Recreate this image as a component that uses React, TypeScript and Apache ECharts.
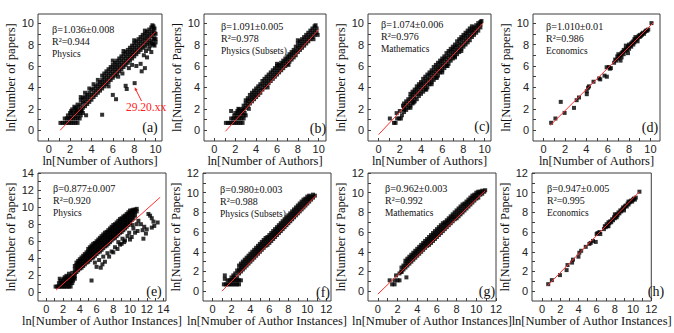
import React, { useEffect, useRef } from "react";
import * as echarts from "echarts";

// ---------- data (x = ln authors / author instances, y = ln papers) ----------
// Flat point lists: [x, y, x, y, ...]. Band lists: each row is [x, y1, y2, ...] (points sharing one x).

// (a) Physics, authors
const ROWS_A = [1.1,0.69, 1.3,0.69, 1.5,0.69, 1.7,0.69, 1.9,0.69, 2.1,0.69, 2.3,0.69, 2.5,0.69, 2.7,0.69,
  1.5,1.1, 1.7,1.1, 1.9,1.1, 2.1,1.1, 2.3,1.1, 2.5,1.1, 2.7,1.1, 2.9,1.1,
  1.8,1.39, 2.1,1.39, 2.4,1.39, 2.7,1.39, 3.0,1.39, 2.0,1.61, 2.3,1.61, 2.6,1.61, 2.9,1.61, 3.2,1.61,
  2.1,1.79, 2.5,1.79, 2.8,1.79, 3.1,1.79, 2.2,1.95, 2.6,1.95, 3.0,1.95, 2.5,2.08, 2.8,2.2, 2.7,2.4, 2.4,2.2];
const BAND_A = [
  [3.0,1.9,2.4,2.8,3.1],[3.2,2.1,2.6,3.0],[3.4,2.25,2.7,3.1,3.5],[3.6,2.45,2.9,3.3],[3.8,2.65,3.1,3.5,3.9],
  [4.0,2.85,3.3,3.8],[4.2,3.1,3.5,3.9,4.3],[4.4,3.3,3.7,4.1],[4.6,3.5,3.9,4.3,4.7],[4.8,3.7,4.1,4.5],
  [5.0,3.9,4.3,4.7,5.1],[5.2,4.1,4.5,4.9,5.3],[5.4,4.3,4.7,5.1,5.5],[5.6,4.5,4.9,5.3,5.7],[5.8,4.7,5.1,5.5,5.9],
  [6.0,4.9,5.3,5.7,6.1,6.5],[6.2,5.1,5.5,5.9,6.3],[6.4,5.3,5.7,6.1,6.5],[6.6,5.5,5.9,6.3,6.7],[6.8,5.7,6.1,6.5,6.9],
  [7.0,5.9,6.3,6.7,7.1,7.4],[7.2,6.1,6.5,6.9,7.3],[7.4,6.3,6.7,7.1,7.5],[7.6,6.5,6.9,7.3,7.7],[7.8,6.7,7.1,7.5,7.9],
  [8.0,6.9,7.3,7.7,8.1,8.4],[8.2,7.1,7.5,7.9,8.3],[8.4,7.3,7.7,8.1,8.5],[8.6,7.5,7.9,8.3,8.7],[8.8,7.7,8.1,8.5,8.9],
  [9.0,7.8,8.2,8.6,9.0,9.3],[9.2,8.0,8.4,8.8,9.2],[9.4,8.2,8.6,9.0,9.4],[9.6,8.3,8.8,9.2,9.6],[9.8,8.5,9.0,9.4,9.7],
  [9.9,9.1,9.5],[9.7,9.8],
];
const OUT_A = [8.04,4.4, 7.2,4.15, 7.3,3.85, 6.0,3.3, 6.3,2.9, 5.0,1.45, 3.5,1.4, 9.0,5.8, 8.6,6.2, 8.2,6.0, 9.2,6.8,
  9.6,7.3, 9.9,7.9, 10.0,8.2, 9.8,8.0, 9.4,7.6, 7.8,6.1, 7.5,5.8, 6.9,5.3, 8.7,5.5, 10.0,9.0, 9.9,8.6,
  10.0,8.5, 9.7,8.1, 9.5,7.9, 9.1,7.4, 8.9,7.0, 6.5,5.0, 5.6,4.1];
const FIT_A = [1.07, 0.0, 10.0, 9.2];

// (b) Physics (Subsets), authors
const ROWS_B = [1.1,0.69, 1.3,0.69, 1.5,0.69, 1.7,0.69, 1.9,0.69, 2.1,0.69, 2.3,0.69, 2.5,0.69, 2.7,0.69,
  1.6,1.1, 1.8,1.1, 2.0,1.1, 2.2,1.1, 2.4,1.1, 2.6,1.1, 2.8,1.1,
  1.9,1.39, 2.2,1.39, 2.5,1.39, 2.8,1.39, 3.0,1.39, 1.6,1.8, 2.0,1.61, 2.3,1.61, 2.6,1.61, 2.9,1.61,
  2.2,1.79, 2.6,1.79, 2.4,1.95, 2.7,2.0, 2.3,2.0];
const BAND_B = [
  [2.8,1.9,2.3],[3.0,2.1,2.5,2.8],[3.2,2.3,2.7,3.0],[3.4,2.5,2.9,3.3],[3.6,2.7,3.1,3.5],[3.8,2.9,3.3,3.7],
  [4.0,3.1,3.5,3.9],[4.2,3.3,3.7,4.1],[4.4,3.5,3.9,4.3],[4.6,3.8,4.2,4.6],[4.8,4.0,4.4,4.8],[5.0,4.2,4.6,5.0],
  [5.2,4.4,4.8,5.2],[5.4,4.6,5.0,5.4],[5.6,4.8,5.2,5.6],[5.8,5.0,5.4,5.8],[6.0,5.2,5.6,6.0,6.2],[6.2,5.4,5.8,6.1],
  [6.4,5.6,6.0,6.3],[6.6,5.8,6.2,6.5],[6.8,6.0,6.4,6.7],[7.0,6.2,6.6,6.9],[7.2,6.4,6.8,7.1],[7.4,6.6,7.0,7.3],
  [7.6,6.8,7.2,7.5],[7.8,7.0,7.4,7.8],[8.0,7.3,7.7,8.1,8.4],[8.2,7.5,7.9,8.3],[8.4,7.7,8.1,8.5],[8.6,7.9,8.3,8.7],
  [8.8,8.1,8.5,8.9],[9.0,8.3,8.7,9.1],[9.2,8.5,8.9,9.3],[9.4,8.7,9.1,9.5],[9.6,8.9,9.3,9.7],[9.8,9.1,9.5],[9.7,9.8],
];
const OUT_B = [9.9,8.9, 9.5,8.5, 3.3,2.0, 5.1,4.0, 7.1,6.1];
const FIT_B = [1.05, -0.1, 10.0, 9.4];

// (c) Mathematics, authors
const ROWS_C = [1.06,1.1, 1.45,0.69, 1.6,0.69, 1.75,1.1, 1.95,1.1, 2.1,1.1, 1.7,1.6, 2.0,1.8, 2.2,1.4, 2.4,1.95, 2.3,2.3];
const BAND_C = [
  [2.4,1.7,2.1,2.5],[2.6,1.9,2.3,2.7],[2.8,2.1,2.5,2.9],[3.0,2.3,2.7,3.1,3.4],[3.2,2.5,2.9,3.3,3.6],
  [3.4,2.7,3.1,3.5,3.8],[3.6,2.9,3.4,3.8,4.1],[3.8,3.2,3.6,4.0,4.3],[4.0,3.4,3.8,4.2,4.5],[4.2,3.6,4.0,4.4,4.8],
  [4.4,3.8,4.2,4.6,5.0],[4.6,4.0,4.4,4.8,5.2],[4.8,4.3,4.7,5.1,5.4],[5.0,4.5,4.9,5.3,5.6],[5.2,4.7,5.1,5.5,5.9],
  [5.4,4.9,5.3,5.7,6.1],[5.6,5.1,5.5,5.9,6.3],[5.8,5.4,5.8,6.2,6.5],[6.0,5.6,6.0,6.4,6.7],[6.2,5.8,6.2,6.6,6.9],
  [6.4,6.0,6.4,6.8,7.2],[6.6,6.2,6.6,7.0,7.4],[6.8,6.5,6.9,7.3,7.6],[7.0,6.7,7.1,7.5,7.8],[7.2,6.9,7.3,7.7,8.0],
  [7.4,7.1,7.5,7.9,8.3],[7.6,7.3,7.7,8.1,8.5],[7.8,7.6,8.0,8.4,8.7],[8.0,7.8,8.2,8.6,8.9],[8.2,8.0,8.4,8.8,9.1],
  [8.4,8.2,8.6,9.0,9.3],[8.6,8.4,8.8,9.2,9.5],[8.8,8.7,9.1,9.4,9.7],[9.0,8.9,9.3,9.6],[9.2,9.1,9.5,9.8],
  [9.4,9.3,9.7,10.0],[9.6,9.6,9.9,10.1],[9.7,10.2],
];
const OUT_C = [3.0,2.1, 3.3,2.6, 4.5,3.8, 5.5,4.9, 6.0,5.4, 6.5,6.0, 7.2,6.8, 5.0,4.3, 7.8,7.4];
const FIT_C = [0.0, -0.4, 9.85, 10.0];

// (d) Economics, authors
const PTS_D = [0.7,0.7, 1.1,1.1, 1.6,2.65, 1.96,1.62, 2.84,2.09, 3.09,2.81, 3.31,3.06, 4.04,3.37, 4.04,3.65, 4.16,3.97,
  4.25,4.1, 4.67,4.53, 5.2,4.84, 5.3,4.75, 5.7,5.1, 5.92,5.0, 5.9,5.88, 6.1,5.9, 6.2,5.75, 6.3,5.8,
  6.6,6.3, 6.7,6.6, 6.8,6.5, 6.9,6.9, 7.0,6.7, 7.0,7.1, 7.1,6.9, 7.2,7.0, 7.3,7.2, 7.3,6.8, 7.4,7.3, 7.5,7.1,
  7.5,7.5, 7.6,7.4, 7.7,7.6, 7.7,7.9, 7.8,7.5, 7.9,7.8, 8.0,7.6, 8.0,8.0, 8.1,7.9, 8.2,8.1, 8.2,7.8, 8.3,8.2,
  8.4,8.3, 8.4,8.0, 8.5,8.5, 8.5,8.2, 8.6,8.4, 8.6,8.7, 8.7,8.5, 8.8,8.6, 8.8,8.3, 8.9,8.8, 9.0,8.7, 9.0,8.9,
  9.1,8.8, 9.2,9.0, 9.2,8.9, 9.3,9.1, 9.4,9.0, 9.5,9.2, 9.6,9.3, 9.7,9.3, 9.8,9.4, 7.2,6.5, 7.9,7.2, 10.1,10.0];
const FIT_D = [0.63, 0.47, 10.3, 10.06];

// (e) Physics, author instances
const ROWS_E = [1.1,0.69, 1.3,0.69, 1.5,0.69, 1.7,0.69, 1.9,0.69, 2.1,0.69, 2.3,0.69, 2.5,0.69, 2.7,0.69, 2.9,0.69,
  1.5,1.1, 1.7,1.1, 1.9,1.1, 2.1,1.1, 2.3,1.1, 2.5,1.1, 2.7,1.1, 2.9,1.1, 3.1,1.1,
  1.7,1.39, 2.0,1.39, 2.3,1.39, 2.6,1.39, 2.9,1.39, 3.2,1.39, 1.6,1.61, 2.1,1.61, 2.5,1.61, 2.8,1.61, 3.1,1.61, 3.4,1.61,
  2.2,1.79, 2.6,1.79, 3.0,1.79, 3.3,1.79, 2.4,1.95, 2.9,1.95, 3.4,1.95, 2.7,2.2, 3.1,2.3];
const BAND_E = [
  [3.4,2.3,2.7,3.1],[3.6,2.4,2.8,3.2,3.5],[3.8,2.6,3.0,3.4,3.7],[4.0,2.8,3.2,3.6,3.9],[4.2,2.9,3.3,3.7,4.1],
  [4.4,3.1,3.5,3.9,4.3],[4.6,3.3,3.7,4.1,4.5],[4.8,3.5,3.9,4.3,4.7],[5.0,3.6,4.0,4.4,4.8,5.1],[5.2,3.8,4.2,4.6,5.0,5.3],
  [5.4,4.0,4.4,4.8,5.2,5.5],[5.6,4.1,4.5,4.9,5.3,5.7],[5.8,4.3,4.7,5.1,5.5,5.8],[6.0,4.5,4.9,5.3,5.7,6.0],
  [6.2,4.7,5.1,5.5,5.9,6.2],[6.4,4.8,5.2,5.6,6.0,6.4],[6.6,5.0,5.4,5.8,6.2,6.6],[6.8,5.2,5.6,6.0,6.4,6.8],
  [7.0,5.4,5.8,6.2,6.6,7.0],[7.2,5.5,5.9,6.3,6.7,7.1],[7.4,5.7,6.1,6.5,6.9,7.3],[7.6,5.9,6.3,6.7,7.1,7.5],
  [7.8,6.1,6.5,6.9,7.3,7.7],[8.0,6.3,6.7,7.1,7.5,7.9],[8.2,6.4,6.8,7.2,7.6,8.0],[8.4,6.6,7.0,7.4,7.8,8.2],
  [8.6,6.8,7.2,7.6,8.0,8.4],[8.8,7.0,7.4,7.8,8.2,8.6],[9.0,7.1,7.5,7.9,8.3,8.7],[9.2,7.3,7.7,8.1,8.5,8.9],
  [9.4,7.5,7.9,8.3,8.7,9.0],[9.6,7.7,8.1,8.5,8.9,9.2],[9.8,7.9,8.3,8.7,9.1,9.4],[10.0,8.1,8.5,8.9,9.3,9.6],
  [10.2,8.5,8.9,9.3,9.6],[10.4,8.7,9.1,9.5,9.7],[10.6,9.0,9.4,9.7],[10.8,9.5,9.8],
];
const OUT_E = [5.4,1.4, 6.0,3.0, 6.5,2.9, 6.7,3.3, 7.0,3.6, 7.5,4.2, 7.8,4.8, 8.0,4.7, 8.5,5.1, 9.0,5.7, 9.3,5.9, 9.4,6.1,
  8.8,5.6, 8.2,5.3, 9.7,6.6, 10.2,6.5, 10.6,7.0, 10.9,7.2, 11.0,8.4, 11.3,8.0, 11.5,7.3, 11.6,6.3, 11.9,6.9,
  12.0,7.4, 12.2,9.2, 12.4,9.0, 12.6,8.7, 12.8,8.3, 12.6,7.6, 12.9,7.8, 13.3,8.2, 11.7,7.7, 10.0,6.2, 9.9,7.0,
  10.4,7.5, 10.8,8.0, 7.3,4.6, 6.8,4.2, 6.3,3.8, 5.8,3.5, 9.1,6.3, 8.6,5.9, 10.3,7.9];
const FIT_E = [1.16, 0.28, 13.6, 11.15];

// (f) Physics (Subsets), author instances
const ROWS_F = [1.2,0.69, 1.4,0.69, 1.6,0.69, 1.8,0.69, 2.0,0.69, 2.2,0.69, 2.4,0.69, 2.6,0.69, 2.8,0.69,
  1.6,1.1, 1.8,1.1, 2.0,1.1, 2.2,1.1, 2.4,1.1, 2.6,1.1, 2.8,1.1, 3.0,1.1,
  1.3,1.6, 1.3,1.25, 2.0,1.39, 2.3,1.39, 2.6,1.39, 2.2,1.6, 2.4,1.8, 2.6,2.1];
const BAND_F = [
  [2.8,1.8,2.2,2.6],[3.0,2.0,2.4,2.8],[3.2,2.2,2.6,3.0],[3.4,2.4,2.8,3.2],[3.6,2.6,3.0,3.4],[3.8,2.8,3.2,3.6],
  [4.0,3.0,3.4,3.8],[4.2,3.2,3.6,4.0],[4.4,3.4,3.8,4.2],[4.6,3.6,4.0,4.4],[4.8,3.8,4.2,4.6],[5.0,4.0,4.4,4.8],
  [5.2,4.2,4.6,5.0],[5.4,4.4,4.8,5.2],[5.6,4.6,5.0,5.4],[5.8,4.7,5.1,5.5],[6.0,4.9,5.3,5.7],[6.2,5.1,5.5,5.9],
  [6.4,5.3,5.7,6.1],[6.6,5.5,5.9,6.3],[6.8,5.7,6.1,6.5],[7.0,5.9,6.3,6.7],[7.2,6.1,6.5,6.9],[7.4,6.3,6.7,7.1],
  [7.6,6.5,6.9,7.3],[7.8,6.7,7.1,7.5],[8.0,6.9,7.3,7.7],[8.2,7.1,7.5,7.9],[8.4,7.3,7.7,8.1],[8.6,7.5,7.9,8.3],
  [8.8,7.7,8.1,8.5],[9.0,7.9,8.3,8.7],[9.2,8.1,8.5,8.9],[9.4,8.3,8.7,9.1],[9.6,8.5,8.9,9.3],[9.8,8.7,9.1,9.4],
  [10.0,8.9,9.3,9.6],[10.2,9.1,9.4,9.7],[10.4,9.3,9.6],[10.6,9.5,9.8],[10.8,9.7],
];
const FIT_F = [1.0, 0.0, 10.9, 9.7];

// (g) Mathematics, author instances
const ROWS_G = [1.2,1.1, 1.45,0.69, 1.7,0.69, 1.85,1.6, 1.7,1.1, 2.0,1.1, 2.2,1.1, 2.9,1.4, 2.4,1.95, 2.2,1.8];
const BAND_G = [
  [2.4,2.0,2.4],[2.6,2.2,2.6],[2.8,2.4,2.8,3.1],[3.0,2.6,3.0,3.3],[3.2,2.8,3.2,3.5],[3.4,3.0,3.4,3.7],
  [3.6,3.2,3.6,3.9],[3.8,3.4,3.8,4.1],[4.0,3.6,4.0,4.3],[4.2,3.8,4.2,4.5],[4.4,4.0,4.4,4.7],[4.6,4.2,4.6,4.9],
  [4.8,4.4,4.8,5.1],[5.0,4.6,5.0,5.3],[5.2,4.7,5.1,5.5],[5.4,4.9,5.3,5.7],[5.6,5.1,5.5,5.9],[5.8,5.3,5.7,6.1],
  [6.0,5.5,5.9,6.3],[6.2,5.7,6.1,6.5],[6.4,5.9,6.3,6.7],[6.6,6.1,6.5,6.9],[6.8,6.3,6.7,7.0],[7.0,6.5,6.9,7.2],
  [7.2,6.7,7.1,7.4],[7.4,6.9,7.3,7.6],[7.6,7.1,7.5,7.8],[7.8,7.3,7.6,8.0],[8.0,7.4,7.8,8.2],[8.2,7.6,8.0,8.4],
  [8.4,7.8,8.2,8.6],[8.6,8.0,8.4,8.8],[8.8,8.2,8.6,8.9],[9.0,8.4,8.8,9.1],[9.2,8.6,9.0,9.3],[9.4,8.8,9.2,9.5],
  [9.6,9.0,9.4,9.7],[9.8,9.2,9.5,9.8],[10.0,9.4,9.7,10.0],[10.2,9.5,9.9,10.1],[10.4,9.8,10.1],[10.6,9.9,10.2],
  [10.8,10.1],[10.9,10.25],
];
const FIT_G = [0.0, -0.3, 10.9, 10.2];

// (h) Economics, author instances
const PTS_H = [0.68,0.71, 1.08,1.12, 1.97,1.63, 2.7,2.14, 2.8,2.65, 3.3,2.9, 3.4,3.2, 4.0,3.5, 4.1,3.9, 4.3,4.1, 4.8,4.5,
  5.2,4.8, 5.35,4.9, 5.6,5.1, 5.9,5.0, 6.0,5.8, 6.1,5.9, 6.3,6.0, 6.4,5.8,
  6.8,6.3, 6.9,6.6, 7.0,6.5, 7.1,6.8, 7.2,6.6, 7.3,7.0, 7.4,6.9, 7.5,7.1, 7.6,7.0, 7.7,7.3, 7.8,7.2, 7.9,7.5,
  8.0,7.8, 8.0,7.4, 8.1,7.6, 8.2,7.8, 8.3,7.7, 8.4,8.0, 8.5,7.9, 8.6,8.2, 8.7,8.1, 8.8,8.3, 8.9,8.5, 9.0,8.4,
  9.1,8.6, 9.2,8.7, 9.3,8.6, 9.4,8.9, 9.5,8.8, 9.6,9.0, 9.7,9.1, 9.8,9.2, 9.9,9.1, 10.0,9.3, 10.1,9.4,
  10.2,9.3, 10.3,9.5, 7.3,6.6, 8.2,7.5, 9.0,8.2, 9.5,9.1, 10.7,10.1];
const FIT_H = [0.6, 0.55, 10.7, 10.1];

const TICKS_10 = [0, 1, 2, 3, 4, 5, 6, 7, 8, 9, 10];
const LABELS_10 = [0, 2, 4, 6, 8, 10];
const TICKS_12 = [0, 1, 2, 3, 4, 5, 6, 7, 8, 9, 10, 11, 12];
const LABELS_12 = [0, 2, 4, 6, 8, 10, 12];
const TICKS_14 = [0, 1, 2, 3, 4, 5, 6, 7, 8, 9, 10, 11, 12, 13, 14];
const LABELS_14 = [0, 2, 4, 6, 8, 10, 12, 14];

const BETAS = ["β=1.036±0.008", "β=1.091±0.005", "β=1.074±0.006", "β=1.010±0.01",
  "β=0.877±0.007", "β=0.980±0.003", "β=0.962±0.003", "β=0.947±0.005"];
const R2S = ["0.944", "0.978", "0.976", "0.986", "0.920", "0.988", "0.992", "0.995"];
const FIELDS = ["Physics", "Physics (Subsets)", "Mathematics", "Economics",
  "Physics", "Physics (Subsets)", "Mathematics", "Economics"];
const TAGS = ["(a)", "(b)", "(c)", "(d)", "(e)", "(f)", "(g)", "(h)"];
const X_NAMES = ["ln[Number of Authors]", "ln[Number of Authors]", "ln[Number of Authors]", "ln[Number of Authors]",
  "ln[Number of Author Instances]", "ln[Nmuber of Author Instances]", "ln[Nmuber of Author Instances]", "ln[Number of Author Instances]"];
const Y_NAMES = ["ln[Number of papers]", "ln[Number of Papers]", "ln[Number of papers]", "ln[Number of papers]",
  "ln[Number of Papers]", "ln[Number of Papers]", "ln[Number of Papers]", "ln[Number of Papers]"];
const ANNOT_TEXT = "29.20.xx";

// ---------- layout ----------
const LAYOUT = [
  { g: [38, 14, 124, 127], x: [-1, 10.6], y: [-1, 10.85], xt: TICKS_10, xl: LABELS_10, yt: TICKS_10, yl: LABELS_10, yGap: 19, tx: 52, ty: 29, lx: 150, ly: 127 },
  { g: [204, 14, 122, 127], x: [-1, 10.7], y: [-1, 10.85], xt: TICKS_10, xl: LABELS_10, yt: TICKS_10, yl: LABELS_10, yGap: 17, tx: 221, ty: 26, lx: 318, ly: 128 },
  { g: [368, 14, 123, 127], x: [-1, 10.6], y: [-1, 10.85], xt: TICKS_10, xl: LABELS_10, yt: TICKS_10, yl: LABELS_10, yGap: 15, tx: 381, ty: 24, lx: 482, ly: 126 },
  { g: [533, 14, 127, 127], x: [-1, 10.9], y: [-1, 10.85], xt: TICKS_10, xl: LABELS_10, yt: TICKS_10, yl: LABELS_10, yGap: 15, tx: 546, ty: 26, lx: 650, ly: 127 },
  { g: [38, 173, 128, 128], x: [-1, 14.3], y: [-1, 14], xt: TICKS_14, xl: LABELS_14, yt: TICKS_14, yl: LABELS_14, yGap: 19, tx: 53, ty: 188, lx: 154, ly: 291 },
  { g: [203, 173, 128, 128], x: [-1, 12.5], y: [-1, 12], xt: TICKS_12, xl: LABELS_12, yt: TICKS_12, yl: LABELS_12, yGap: 17, tx: 220, ty: 189, lx: 323, ly: 292 },
  { g: [368, 173, 128, 128], x: [-1, 12], y: [-1, 12], xt: TICKS_12, xl: LABELS_12, yt: TICKS_12, yl: LABELS_12, yGap: 15, tx: 385, ty: 188, lx: 487, ly: 291 },
  { g: [532, 173, 130, 128], x: [-1.1, 12], y: [-1, 12], xt: TICKS_12, xl: LABELS_12, yt: TICKS_12, yl: LABELS_12, yGap: 15, tx: 547, ty: 188, lx: 656, ly: 291 },
];

function pairs(a: number[]): number[][] {
  const r: number[][] = [];
  for (let i = 0; i + 1 < a.length; i += 2) r.push([a[i], a[i + 1]]);
  return r;
}
function bandPts(rows: number[][]): number[][] {
  const r: number[][] = [];
  rows.forEach((row) => { for (let k = 1; k < row.length; k++) r.push([row[0], row[k]]); });
  return r;
}

const ALL_PTS = [
  [...pairs(ROWS_A), ...bandPts(BAND_A), ...pairs(OUT_A)],
  [...pairs(ROWS_B), ...bandPts(BAND_B), ...pairs(OUT_B)],
  [...pairs(ROWS_C), ...bandPts(BAND_C), ...pairs(OUT_C)],
  pairs(PTS_D),
  [...pairs(ROWS_E), ...bandPts(BAND_E), ...pairs(OUT_E)],
  [...pairs(ROWS_F), ...bandPts(BAND_F)],
  [...pairs(ROWS_G), ...bandPts(BAND_G)],
  pairs(PTS_H),
];
const ALL_FITS = [FIT_A, FIT_B, FIT_C, FIT_D, FIT_E, FIT_F, FIT_G, FIT_H];

const SERIF = "'Liberation Serif', 'Times New Roman', serif";
const SANS = "'Liberation Sans', Arial, sans-serif";
const LINE_FONTS = ["10.2px", "10px", "9.4px"];

function buildOption() {
  const grid: any[] = [];
  const xAxis: any[] = [];
  const yAxis: any[] = [];
  const series: any[] = [];
  const graphic: any[] = [];
  LAYOUT.forEach((L, i) => {
    grid.push({ left: L.g[0], top: L.g[1], width: L.g[2], height: L.g[3], show: true, borderColor: "#3c3c3c", borderWidth: 1 });
    xAxis.push({
      type: "value", gridIndex: i, min: L.x[0], max: L.x[1],
      name: X_NAMES[i], nameLocation: "middle", nameGap: 13,
      nameTextStyle: { fontFamily: SERIF, fontSize: 12.5, color: "#111" },
      axisLine: { show: false, onZero: false }, splitLine: { show: false },
      axisTick: { show: true, inside: true, length: 3, customValues: L.xt, lineStyle: { color: "#3c3c3c" } },
      axisLabel: { customValues: L.xl, fontFamily: SANS, fontSize: 11, color: "#222", margin: 2 },
    });
    yAxis.push({
      type: "value", gridIndex: i, min: L.y[0], max: L.y[1],
      name: Y_NAMES[i], nameLocation: "middle", nameGap: L.yGap,
      nameTextStyle: { fontFamily: SERIF, fontSize: 12.5, color: "#111" },
      axisLine: { show: false, onZero: false }, splitLine: { show: false },
      axisTick: { show: true, inside: true, length: 3, customValues: L.yt, lineStyle: { color: "#3c3c3c" } },
      axisLabel: { customValues: L.yl, fontFamily: SANS, fontSize: 11, color: "#222", margin: 4 },
    });
    series.push({
      type: "scatter", xAxisIndex: i, yAxisIndex: i, data: ALL_PTS[i],
      symbol: "rect", symbolSize: 4, itemStyle: { color: "#000" }, silent: true, z: 2,
    });
    series.push({
      type: "line", xAxisIndex: i, yAxisIndex: i, data: pairs(ALL_FITS[i]),
      symbol: "none", lineStyle: { color: "#ff3030", width: 1 }, silent: true, z: 3,
    });
    const lines = [BETAS[i], "R²=" + R2S[i], FIELDS[i]];
    lines.forEach((t, k) => {
      graphic.push({
        type: "text", x: L.tx, y: L.ty + k * 12.5, silent: true, z: 100,
        style: { text: t, font: `${LINE_FONTS[k]} ${SERIF}`, fill: "#111", verticalAlign: "middle", align: "left" },
      });
    });
    graphic.push({
      type: "text", x: L.lx, y: L.ly, silent: true, z: 100,
      style: { text: TAGS[i], font: `14px ${SERIF}`, fill: "#111", verticalAlign: "middle", align: "center" },
    });
  });
  graphic.push({
    type: "text", x: 146, y: 107, silent: true, z: 100,
    style: { text: ANNOT_TEXT, font: `11.5px ${SERIF}`, fill: "#ff2020", verticalAlign: "middle", align: "center" },
  });
  graphic.push({ type: "line", silent: true, z: 100, shape: { x1: 136, y1: 90, x2: 141.5, y2: 101 }, style: { stroke: "#ff2020", lineWidth: 1 } });
  graphic.push({ type: "polygon", silent: true, z: 100, shape: { points: [[134.6, 87.2], [137.5, 89.6], [134.9, 91.0]] }, style: { fill: "#ff2020" } });

  return { animation: false, backgroundColor: "#fff", grid, xAxis, yAxis, series, graphic };
}

export default function App() {
  const ref = useRef<HTMLDivElement>(null);
  useEffect(() => {
    if (!ref.current) return;
    const chart = echarts.init(ref.current, null, { renderer: "svg" });
    chart.setOption(buildOption() as any);
    return () => chart.dispose();
  }, []);
  return <div ref={ref} style={{ position: "absolute", left: 0, top: 0, width: 674, height: 333 }} />;
}
